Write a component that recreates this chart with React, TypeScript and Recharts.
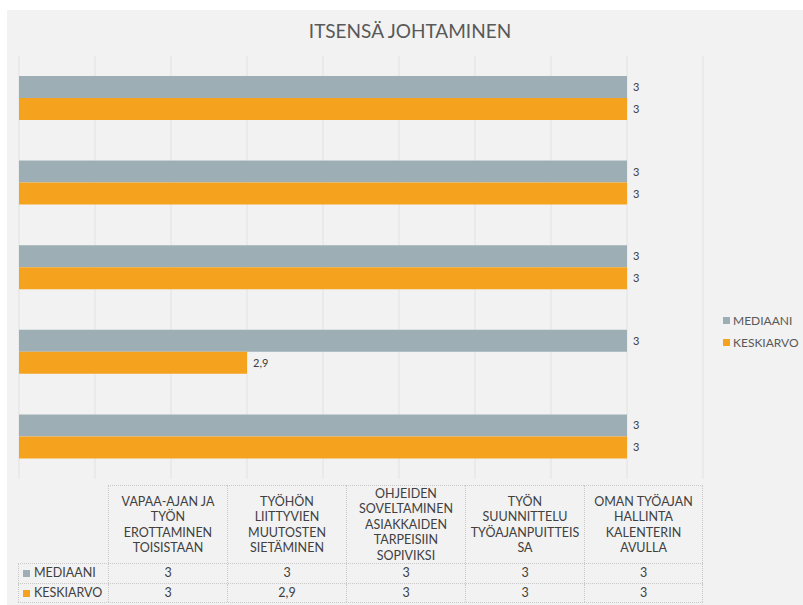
import React from "react";
import { BarChart, Bar, XAxis, YAxis, CartesianGrid, LabelList } from "recharts";

// categories in data-table order (first one is drawn at the bottom)
const categories = [
  "VAPAA-AJAN JA TYÖN EROTTAMINEN TOISISTAAN",
  "TYÖHÖN LIITTYVIEN MUUTOSTEN SIETÄMINEN",
  "OHJEIDEN SOVELTAMINEN ASIAKKAIDEN TARPEISIIN SOPIVIKSI",
  "TYÖN SUUNNITTELU TYÖAJANPUITTEISSA",
  "OMAN TYÖAJAN HALLINTA KALENTERIN AVULLA",
];
// how the table header wraps each category
const headerLines = [
  ["VAPAA-AJAN JA", "TYÖN", "EROTTAMINEN", "TOISISTAAN"],
  ["TYÖHÖN", "LIITTYVIEN", "MUUTOSTEN", "SIETÄMINEN"],
  ["OHJEIDEN", "SOVELTAMINEN", "ASIAKKAIDEN", "TARPEISIIN", "SOPIVIKSI"],
  ["TYÖN", "SUUNNITTELU", "TYÖAJANPUITTEIS", "SA"],
  ["OMAN TYÖAJAN", "HALLINTA", "KALENTERIN", "AVULLA"],
];
const mediaani = [3, 3, 3, 3, 3];
const keskiarvo = [3, 2.9, 3, 3, 3];
const xTicks = [2.84, 2.86, 2.88, 2.9, 2.92, 2.94, 2.96, 2.98, 3, 3.02];

const GRAY = "#9dafb4";
const ORANGE = "#f5a31f";
const TEXT = "#404040";
const FONT = "Lato, 'Open Sans', sans-serif";

const data = categories.map((name, i) => ({
  name,
  MEDIAANI: mediaani[i],
  KESKIARVO: keskiarvo[i],
}));

const fmt = (v: any) => String(v).replace(".", ",");

const series = [
  { key: "MEDIAANI", color: GRAY, values: mediaani },
  { key: "KESKIARVO", color: ORANGE, values: keskiarvo },
];

const border = "1px dotted #c9c9c9";

const DataTable = () => {
  const labelW = 90;
  const colW = 119;
  return (
    <div
      style={{
        position: "absolute",
        left: 18,
        top: 485,
        fontFamily: FONT,
        fontSize: 12.5,
        color: TEXT,
      }}
    >
      <div style={{ display: "flex", height: 78 }}>
        <div style={{ width: labelW }} />
        {headerLines.map((lines, i) => (
          <div
            key={i}
            style={{
              width: colW,
              boxSizing: "border-box",
              borderTop: border,
              borderLeft: border,
              borderRight: i === headerLines.length - 1 ? border : undefined,
              display: "flex",
              flexDirection: "column",
              justifyContent: "center",
              alignItems: "center",
              lineHeight: "15.5px",
              textAlign: "center",
            }}
          >
            {lines.map((l, j) => (
              <div key={j}>{l}</div>
            ))}
          </div>
        ))}
      </div>
      {series.map((s, r) => (
        <div
          key={s.key}
          style={{
            display: "flex",
            height: 18.5,
            lineHeight: "18px",
            borderTop: border,
            borderBottom: r === series.length - 1 ? border : undefined,
          }}
        >
          <div
            style={{
              width: labelW,
              boxSizing: "border-box",
              borderLeft: border,
              paddingLeft: 4,
              whiteSpace: "nowrap",
            }}
          >
            <span
              style={{
                display: "inline-block",
                width: 7,
                height: 7,
                background: s.color,
                marginRight: 4,
              }}
            />
            {s.key}
          </div>
          {s.values.map((v, i) => (
            <div
              key={i}
              style={{
                width: colW,
                boxSizing: "border-box",
                borderLeft: border,
                borderRight: i === s.values.length - 1 ? border : undefined,
                textAlign: "center",
              }}
            >
              {fmt(v)}
            </div>
          ))}
        </div>
      ))}
    </div>
  );
};

const App = () => {
  return (
    <div
      style={{
        position: "absolute",
        left: 0,
        top: 0,
        width: 803,
        height: 605,
        background: "#ffffff",
        overflow: "hidden",
      }}
    >
      <div
        style={{
          position: "absolute",
          left: 7,
          top: 10,
          width: 796,
          height: 595,
          background: "#f2f2f2",
        }}
      />
      <div
        style={{
          position: "absolute",
          left: 0,
          top: 19,
          width: 820,
          textAlign: "center",
          fontFamily: FONT,
          fontSize: 19,
          color: "#595959",
        }}
      >
        ITSENSÄ JOHTAMINEN
      </div>
      <div style={{ position: "absolute", left: 0, top: 0 }}>
        <BarChart
          width={803}
          height={605}
          data={data}
          layout="vertical"
          margin={{ top: 56, left: 19, right: 100, bottom: 126 }}
          barGap={0}
          barSize={22}
        >
          <CartesianGrid
            horizontal={false}
            stroke="#e2e2e2"
            strokeWidth={1}
          />
          <XAxis
            type="number"
            domain={[2.84, 3.02]}
            ticks={xTicks}
            allowDataOverflow
            hide
          />
          <YAxis type="category" dataKey="name" reversed hide />
          {series.map((s) => (
            <Bar
              key={s.key}
              dataKey={s.key}
              fill={s.color}
              isAnimationActive={false}
            >
              <LabelList
                dataKey={s.key}
                position="right"
                offset={6}
                fill={TEXT}
                fontSize={11}
                fontFamily={FONT}
                formatter={fmt}
              />
            </Bar>
          ))}
        </BarChart>
      </div>
      <div
        style={{
          position: "absolute",
          left: 723,
          top: 309,
          fontFamily: FONT,
          fontSize: 12,
          color: "#595959",
        }}
      >
        {series.map((s) => (
          <div
            key={s.key}
            style={{ display: "flex", alignItems: "center", height: 22 }}
          >
            <span
              style={{
                display: "inline-block",
                width: 7,
                height: 7,
                background: s.color,
                marginRight: 3,
              }}
            />
            {s.key}
          </div>
        ))}
      </div>
      <DataTable />
    </div>
  );
};

export default App;
